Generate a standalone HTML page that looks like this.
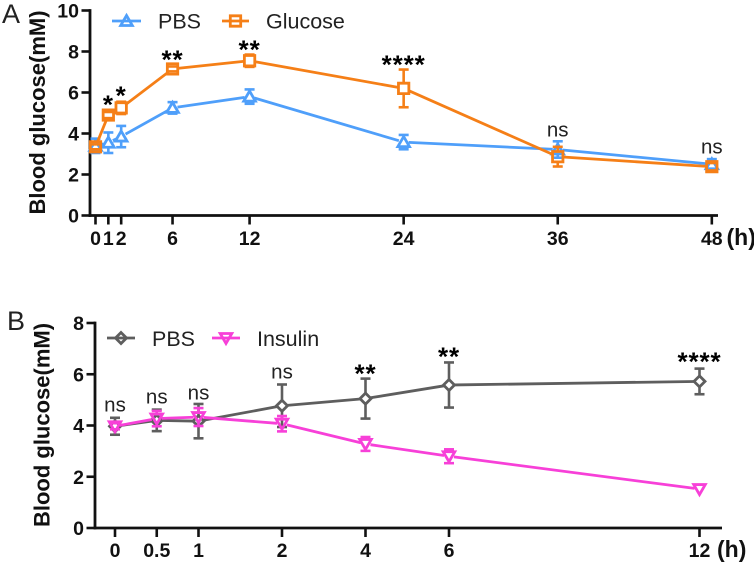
<!DOCTYPE html>
<html>
<head>
<meta charset="utf-8">
<style>
html,body{margin:0;padding:0;background:#fff;}
svg{display:block;}
text{font-family:"Liberation Sans",sans-serif;fill:#111;}
.tick{font-weight:bold;font-size:19.5px;}
.unit{font-weight:bold;font-size:23px;}
.title{font-weight:bold;font-size:22px;}
.legend{font-size:21.5px;fill:#222;}
.panel{font-size:27px;fill:#222;}
.stars{font-weight:bold;font-size:26px;letter-spacing:0.9px;fill:#000;}
.ns{font-size:20.5px;fill:#222;}
</style>
</head>
<body>
<svg id="figure" xmlns="http://www.w3.org/2000/svg" width="754" height="563" viewBox="0 0 754 563"></svg>
<script>
/* Panel A data */
var aTimes = [0, 1, 2, 6, 12, 24, 36, 48];
var aTickLabels = ["0", "1", "2", "6", "12", "24", "36", "48"];
var aYTicks = [0, 2, 4, 6, 8, 10];
var aPbs = [3.4, 3.55, 3.85, 5.25, 5.8, 3.58, 3.22, 2.5];
var aPbsErr = [0.35, 0.5, 0.52, 0.28, 0.35, 0.35, 0.4, 0.25];
var aGlucose = [3.35, 4.9, 5.25, 7.15, 7.55, 6.2, 2.87, 2.38];
var aGlucoseErr = [0.12, 0.15, 0.3, 0.12, 0.3, 0.92, 0.48, 0.18];
var aSigText = ["*", "*", "**", "**", "****", "ns", "ns"];
var aSigTimes = [1, 2, 6, 12, 24, 36, 48];
var aSigLevel = [5.63, 6.07, 7.83, 8.32, 7.59, 4.12, 3.29];

/* Panel B data */
var bTimes = [0, 0.5, 1, 2, 4, 6, 12];
var bTickLabels = ["0", "0.5", "1", "2", "4", "6", "12"];
var bYTicks = [0, 2, 4, 6, 8];
var bPbs = [3.97, 4.2, 4.17, 4.77, 5.05, 5.58, 5.72];
var bPbsErr = [0.33, 0.42, 0.67, 0.83, 0.78, 0.88, 0.5];
var bInsulin = [3.97, 4.27, 4.33, 4.07, 3.28, 2.8, 1.52];
var bInsulinErr = [0.12, 0.3, 0.35, 0.3, 0.27, 0.27, 0];
var bSigText = ["ns", "ns", "ns", "ns", "**", "**", "****"];
var bSigTimes = [0, 0.5, 1, 2, 4, 6, 12];
var bSigLevel = [4.76, 5.07, 5.23, 6.05, 6.2, 6.87, 6.67];

var NS = "http://www.w3.org/2000/svg";
var svg = document.getElementById("figure");
var BLUE = "#4f9ffa", ORANGE = "#f57f17", GREY = "#5e5e5e", PINK = "#f740d8";
var MARK_R = 5;

function el(tag, attrs, parent, txt) {
  var n = document.createElementNS(NS, tag);
  for (var k in attrs) n.setAttribute(k, attrs[k]);
  if (txt !== undefined) n.textContent = txt;
  (parent || svg).appendChild(n);
  return n;
}
function ln(x1, y1, x2, y2, color, w, parent) {
  return el("line", {x1: x1, y1: y1, x2: x2, y2: y2, stroke: color, "stroke-width": w}, parent);
}
function marker(kind, cx, cy, color, parent) {
  var a = {fill: "none", stroke: color, "stroke-width": 2.8, "stroke-linejoin": "miter"};
  var p;
  if (kind === "square") {
    p = [[cx-5.2,cy-5.2],[cx+5.2,cy-5.2],[cx+5.2,cy+5.2],[cx-5.2,cy+5.2]];
  } else if (kind === "up") {
    p = [[cx,cy-5.5],[cx+5.8,cy+4.5],[cx-5.8,cy+4.5]];
  } else if (kind === "down") {
    p = [[cx-5.8,cy-4.5],[cx+5.8,cy-4.5],[cx,cy+5.5]];
  } else {
    p = [[cx,cy-5.5],[cx+5.5,cy],[cx,cy+5.5],[cx-5.5,cy]];
  }
  a.points = p.map(function (q) { return q.join(","); }).join(" ");
  return el("polygon", a, parent);
}
function drawSeries(name, times, values, errs, xf, yf, color, kind) {
  var g = el("g", {});
  
  
  var d = "";
  for (var s = 0; s + 1 < times.length; s++) {
    var x1 = xf(times[s]), y1 = yf(values[s]), x2 = xf(times[s + 1]), y2 = yf(values[s + 1]);
    var len = Math.sqrt((x2 - x1) * (x2 - x1) + (y2 - y1) * (y2 - y1));
    if (len <= 2 * MARK_R) continue;
    var ux = (x2 - x1) / len, uy = (y2 - y1) / len;
    d += "M" + (x1 + ux * MARK_R) + " " + (y1 + uy * MARK_R) + "L" + (x2 - ux * MARK_R) + " " + (y2 - uy * MARK_R);
  }
  var line = el("path", {d: d, fill: "none", stroke: color, "stroke-width": 2.8}, g);
  
  
  times.forEach(function (t, i) {
    var x = xf(t), cap = 5, c = yf(values[i]);
    if (errs[i] > 0) {
      var top = yf(values[i] + errs[i]), bot = yf(values[i] - errs[i]);
      var eg = el("g", {}, g);
      
      
      if (c - top > MARK_R) {
        ln(x, top, x, c - MARK_R, color, 2.6, eg);
        ln(x, c + MARK_R, x, bot, color, 2.6, eg);
      }
      ln(x - cap, top, x + cap, top, color, 2.6, eg);
      ln(x - cap, bot, x + cap, bot, color, 2.6, eg);
    }
    var m = marker(kind, x, c, color, g);
    
    
  });
}
function drawAxes(name, xf, yf, times, labels, yTicks, xLeft, xEnd, tickLabelY) {
  var y0 = yf(0);
  var g = el("g", {});
  
  
  ln(xLeft, yf(yTicks[yTicks.length - 1]) - 1.4, xLeft, y0 + 1.4, "#111", 2.8, g);
  ln(xLeft - 1.4, y0, xEnd, y0, "#111", 2.8, g);
  yTicks.forEach(function (v) {
    ln(xLeft - 8.5, yf(v), xLeft, yf(v), "#111", 2.6, g);
    var t = el("text", {x: xLeft - 11, y: yf(v) + 7, "text-anchor": "end", "class": "tick"}, g, String(v));
    
    
  });
  times.forEach(function (tv, i) {
    ln(xf(tv), y0, xf(tv), y0 + 9, "#111", 2.6, g);
    var t = el("text", {x: xf(tv), y: tickLabelY, "text-anchor": "middle", "class": "tick"}, g, labels[i]);
    
    
  });
}
function drawSig(name, texts, times, levels, xf, yf) {
  texts.forEach(function (s, i) {
    var isNs = s === "ns";
    var t = el("text", {
      x: xf(times[i]),
      y: yf(levels[i]) + (isNs ? 5.5 : 13.5),
      "text-anchor": "middle",
      "class": isNs ? "ns" : "stars"
    }, svg, s);
    
    
  });
}
function legendEntry(name, x1, x2, y, color, kind, label, textX, baseY) {
  var g = el("g", {});
  
  
  ln(x1, y, x2, y, color, 2.8, g);
  marker(kind, (x1 + x2) / 2, y, color, g);
  el("text", {x: textX, y: baseY, "class": "legend"}, g, label);
}

/* Panel A axis functions */
function ax(t) { return 95.5 + t * 12.84; }
function ay(v) { return 215.5 - v * 20.5; }
/* Panel B axis functions: the time axis changes scale after 2 h */
function bx(t) { return 115 + 83.5 * (t <= 2 ? t : 2 + (t - 2) / 2); }
function by(v) { return 528 - v * 25.625; }

/* Panel A */
var panelA = el("text", {x: 2, y: 23, "class": "panel"}, svg, "A");


var titleA = el("text", {transform: "translate(45,112.5) rotate(-90)", "text-anchor": "middle", "class": "title"}, svg, "Blood glucose(mM)");


drawAxes("panel-a", ax, ay, aTimes, aTickLabels, aYTicks, 90, 718, 245);
drawSeries("panel-a-pbs", aTimes, aPbs, aPbsErr, ax, ay, BLUE, "up");
drawSeries("panel-a-glucose", aTimes, aGlucose, aGlucoseErr, ax, ay, ORANGE, "square");
drawSig("panel-a", aSigText, aSigTimes, aSigLevel, ax, ay);
legendEntry("panel-a-legend-pbs", 112, 141, 21, BLUE, "up", "PBS", 158, 28.5);
legendEntry("panel-a-legend-glucose", 222, 249, 21, ORANGE, "square", "Glucose", 266, 28.5);
var unitA = el("text", {x: 726.5, y: 245, "class": "unit"}, svg, "(h)");



/* Panel B */
var panelB = el("text", {x: 7, y: 330, "class": "panel"}, svg, "B");


var titleB = el("text", {transform: "translate(49.5,425) rotate(-90)", "text-anchor": "middle", "class": "title"}, svg, "Blood glucose(mM)");


drawAxes("panel-b", bx, by, bTimes, bTickLabels, bYTicks, 95, 722, 557);
drawSeries("panel-b-pbs", bTimes, bPbs, bPbsErr, bx, by, GREY, "diamond");
drawSeries("panel-b-insulin", bTimes, bInsulin, bInsulinErr, bx, by, PINK, "down");
drawSig("panel-b", bSigText, bSigTimes, bSigLevel, bx, by);
legendEntry("panel-b-legend-pbs", 107, 135, 338, GREY, "diamond", "PBS", 152, 346);
legendEntry("panel-b-legend-insulin", 212, 240, 338, PINK, "down", "Insulin", 257, 346);
var unitB = el("text", {x: 717, y: 557, "class": "unit"}, svg, "(h)");


</script>
</body>
</html>
